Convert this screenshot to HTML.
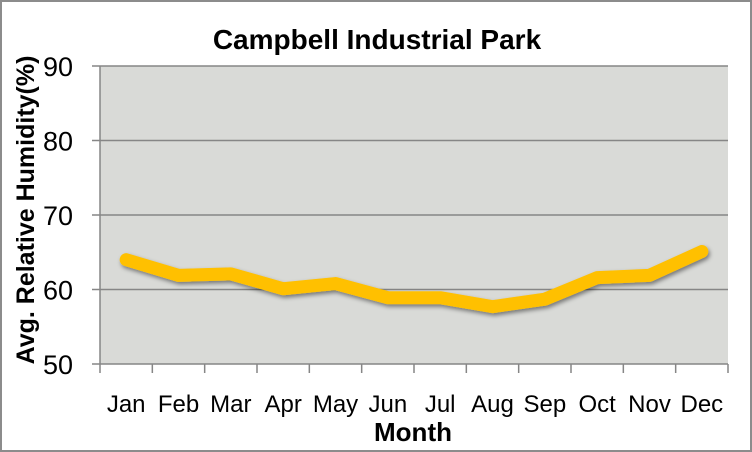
<!DOCTYPE html>
<html><head><meta charset="utf-8"><style>
body{margin:0;background:#fff}
svg{display:block;font-family:"Liberation Sans","DejaVu Sans",sans-serif}
</style></head><body>
<svg width="752" height="452" viewBox="0 0 752 452">
<defs><filter id="sh" x="-10%" y="-50%" width="120%" height="200%"><feDropShadow dx="1.5" dy="2.5" stdDeviation="2" flood-color="#000" flood-opacity="0.45"/></filter></defs>
<rect x="1" y="1" width="750" height="450" fill="#fff" stroke="#8c8c8c" stroke-width="2"/>
<text x="377" y="49" text-anchor="middle" font-size="28" font-weight="bold" fill="#000">Campbell Industrial Park</text>
<rect x="100" y="66" width="628" height="298" fill="#d9dad7"/>
<g id="grid"></g>
<g id="axes"></g>
<g id="series"></g>
<text transform="translate(34,210) rotate(-90)" text-anchor="middle" font-size="25" font-weight="bold">Avg. Relative Humidity(%)</text>
<text x="413" y="441" text-anchor="middle" font-size="26" font-weight="bold">Month</text>
</svg>
<script>
const categories=["Jan","Feb","Mar","Apr","May","Jun","Jul","Aug","Sep","Oct","Nov","Dec"];
const humidity=[64.0,61.9,62.1,60.1,60.8,58.9,58.9,57.7,58.7,61.6,61.9,65.1];
const yTicks=[50,60,70,80,90];
const ns="http://www.w3.org/2000/svg";
const L=100,R=728,T=66,B=364,yMin=50,yMax=90;
const bw=(R-L)/categories.length;
const xs=i=>L+bw*(i+0.5);
const ys=v=>B-(v-yMin)/(yMax-yMin)*(B-T);
function mk(t,a,p){const e=document.createElementNS(ns,t);for(const k in a)e.setAttribute(k,a[k]);p.appendChild(e);return e;}
const grid=document.getElementById('grid'),axes=document.getElementById('axes'),ser=document.getElementById('series');
yTicks.forEach(v=>{
 const y=ys(v);
 const g=mk('line',{x1:92,x2:R,y1:y,y2:y,stroke:'#868686','stroke-width':1.5},grid);
 
 
 const t=mk('text',{x:73,y:y+10,'text-anchor':'end','font-size':27,fill:'#000'},axes);
 t.textContent=v;
 
 
});
const ya=mk('line',{x1:L,x2:L,y1:T,y2:B,stroke:'#868686','stroke-width':1.5},axes);


for(let i=0;i<=categories.length;i++){
 const x=L+bw*i;
 const tk=mk('line',{x1:x,x2:x,y1:B,y2:B+9,stroke:'#868686','stroke-width':1.5},axes);
 
 
}
categories.forEach((c,i)=>{
 const t=mk('text',{x:xs(i),y:412,'text-anchor':'middle','font-size':24,fill:'#000'},axes);
 t.textContent=c;
 
 
});
const pts=humidity.map((v,i)=>xs(i)+','+ys(v)).join(' ');
const pl=mk('polyline',{points:pts,fill:'none',stroke:'#ffc000','stroke-width':13,'stroke-linejoin':'round','stroke-linecap':'round',filter:'url(#sh)'},ser);


</script>
</body></html>
